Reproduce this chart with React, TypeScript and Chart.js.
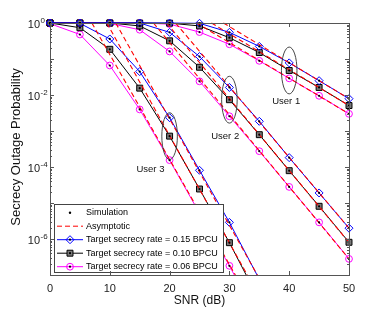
import { useEffect, useRef } from 'react';
import { Chart, registerables } from 'chart.js';
Chart.register(...registerables);

// ---------- data ----------
const snr = [0, 5, 10, 15, 20, 25, 30, 35, 40, 45, 50];

// User 1
const u1Rate015 = [1, 1, 1, 1, 1, 0.98, 0.55, 0.224, 0.078, 0.025, 7.9e-3];
const u1Rate010 = [1, 1, 1, 1, 0.99, 0.83, 0.39, 0.151, 0.048, 0.0162, 5.1e-3];
const u1Rate006 = [1, 1, 1, 1, 0.93, 0.56, 0.257, 0.089, 0.029, 9.5e-3, 3.0e-3];
// User 2
const u2Rate015 = [1, 1, 1, 1, 0.55, 0.117, 0.0162, 1.86e-3, 1.82e-4, 1.9e-5, 2.0e-6];
const u2Rate010 = [1, 1, 1, 0.83, 0.32, 0.059, 7.4e-3, 7.9e-4, 7.9e-5, 8.1e-6, 8.1e-7];
const u2Rate006 = [1, 1, 0.97, 0.65, 0.162, 0.024, 2.57e-3, 2.75e-4, 2.8e-5, 2.9e-6, 2.8e-7];
// User 3 (0..35 dB)
const u3Rate015 = [1, 0.98, 0.36, 0.0447, 2.34e-3, 8.1e-5, 2.9e-6, 7.6e-8];
const u3Rate010 = [1, 0.74, 0.186, 0.0155, 7.2e-4, 2.45e-5, 7.9e-7, 2e-8];
const u3Rate006 = [0.96, 0.48, 0.066, 3.98e-3, 1.55e-4, 5.2e-6, 1.8e-7, 5e-9];

// Asymptotic lines: [snr, probability] pairs
const asU1Rate015 = [[29, 1], [50, 7.9e-3]];
const asU1Rate010 = [[27, 1], [50, 5.1e-3]];
const asU1Rate006 = [[24.5, 1], [50, 3.0e-3]];
const asU2Rate015 = [[21, 1], [50, 2.0e-6]];
const asU2Rate010 = [[19.5, 1], [50, 8.0e-7]];
const asU2Rate006 = [[17.3, 1], [50, 2.8e-7]];
const asU3Rate015 = [[11, 1], [35, 8e-8]];
const asU3Rate010 = [[9.5, 1], [33, 1e-7]];
const asU3Rate006 = [[7, 1], [31, 1e-7]];

const rateLabels = [
  'Target secrecy rate = 0.15 BPCU',
  'Target secrecy rate = 0.10 BPCU',
  'Target secrecy rate = 0.06 BPCU',
];
const xTicks = [0, 10, 20, 30, 40, 50];
const yLabelExps = [0, -2, -4, -6];
const userLabels = [
  { text: 'User 1', x: 39.5, y: 6.6e-3 },
  { text: 'User 2', x: 29.3, y: 7.1e-4 },
  { text: 'User 3', x: 16.8, y: 8.7e-5 },
];
// ellipse centres (on the 0.10 BPCU curves)
const ellipseCentres = [
  { x: snr[8], y: u1Rate010[8] },
  { x: snr[6], y: u2Rate010[6] },
  { x: snr[4], y: u3Rate010[4] },
];

// ---------- styles ----------
const FONT = '"Liberation Sans", Arial, Helvetica, sans-serif';
const styles = [
  { color: '#0000ff', pointStyle: 'rectRot', radius: 4, fill: 'rgba(255,255,255,0)' },
  { color: '#000000', pointStyle: 'rect', radius: 4.2, fill: '#7a7a7a' },
  { color: '#ff00ff', pointStyle: 'circle', radius: 3.4, fill: 'rgba(255,255,255,0)' },
];

const toPts = (vals: number[]) => vals.map((v, i) => ({ x: snr[i], y: v }));
const pairPts = (p: number[][]) => p.map(([x, y]) => ({ x, y }));

const curveGroups = [
  [u1Rate015, u1Rate010, u1Rate006],
  [u2Rate015, u2Rate010, u2Rate006],
  [u3Rate015, u3Rate010, u3Rate006],
];
const asymGroups = [
  asU1Rate015, asU1Rate010, asU1Rate006,
  asU2Rate015, asU2Rate010, asU2Rate006,
  asU3Rate015, asU3Rate010, asU3Rate006,
];

const clip = { left: 10, top: 10, right: 10, bottom: 0 };

function drawMarker(ctx: CanvasRenderingContext2D, i: number, cx: number, cy: number) {
  const s = styles[i];
  ctx.beginPath();
  if (s.pointStyle === 'rectRot') {
    ctx.moveTo(cx, cy - s.radius);
    ctx.lineTo(cx + s.radius, cy);
    ctx.lineTo(cx, cy + s.radius);
    ctx.lineTo(cx - s.radius, cy);
    ctx.closePath();
  } else if (s.pointStyle === 'rect') {
    const h = s.radius * Math.SQRT1_2;
    ctx.rect(cx - h, cy - h, 2 * h, 2 * h);
  } else {
    ctx.arc(cx, cy, s.radius, 0, Math.PI * 2);
  }
  ctx.fillStyle = s.fill;
  ctx.fill();
  ctx.strokeStyle = s.color;
  ctx.lineWidth = 1;
  ctx.stroke();
  ctx.beginPath();
  ctx.arc(cx, cy, 1.1, 0, Math.PI * 2);
  ctx.fillStyle = '#000';
  ctx.fill();
}

const decorPlugin = {
  id: 'decor',
  afterDatasetsDraw(chart: any) {
    const { ctx, chartArea: a, scales } = chart;
    const x = scales.x;
    const y = scales.y;
    ctx.save();

    // ellipses
    ctx.strokeStyle = '#333';
    ctx.lineWidth = 0.9;
    for (const c of ellipseCentres) {
      const cx = x.getPixelForValue(c.x);
      const cy = y.getPixelForValue(c.y);
      const rx = x.getPixelForValue(c.x + 1.3) - cx;
      const ry = y.getPixelForValue(c.y / Math.pow(10, 0.65)) - cy;
      ctx.beginPath();
      ctx.ellipse(cx, cy, rx, ry, 0, 0, Math.PI * 2);
      ctx.stroke();
    }
    // user labels
    ctx.fillStyle = '#111';
    ctx.font = `9.5px ${FONT}`;
    ctx.textAlign = 'center';
    ctx.textBaseline = 'middle';
    for (const u of userLabels) {
      ctx.fillText(u.text, x.getPixelForValue(u.x), y.getPixelForValue(u.y));
    }

    // legend
    const lx = a.left + 4;
    const ly = a.bottom - 71;
    const lw = 169;
    const lh = 68;
    ctx.fillStyle = '#fff';
    ctx.fillRect(lx, ly, lw, lh);
    ctx.strokeStyle = '#444';
    ctx.lineWidth = 1;
    ctx.strokeRect(lx + 0.5, ly + 0.5, lw, lh);
    const rowY = (i: number) => ly + 8.7 + i * 13.5;
    const sx0 = lx + 3;
    const sx1 = lx + 29;
    const smid = lx + 16;
    // simulation
    ctx.beginPath();
    ctx.arc(smid, rowY(0), 1.2, 0, Math.PI * 2);
    ctx.fillStyle = '#000';
    ctx.fill();
    // asymptotic
    ctx.beginPath();
    ctx.setLineDash([5, 3]);
    ctx.strokeStyle = '#ff0000';
    ctx.moveTo(sx0, rowY(1));
    ctx.lineTo(sx1, rowY(1));
    ctx.stroke();
    ctx.setLineDash([]);
    for (let i = 0; i < 3; i++) {
      const ry = rowY(i + 2);
      ctx.beginPath();
      ctx.strokeStyle = styles[i].color;
      ctx.moveTo(sx0, ry);
      ctx.lineTo(sx1, ry);
      ctx.stroke();
      drawMarker(ctx, i, smid, ry);
    }
    ctx.fillStyle = '#000';
    ctx.font = `9px ${FONT}`;
    ctx.textAlign = 'left';
    ctx.textBaseline = 'middle';
    const legendTexts = ['Simulation', 'Asymptotic', ...rateLabels];
    legendTexts.forEach((t, i) => ctx.fillText(t, lx + 32, rowY(i)));

    // frame
    ctx.strokeStyle = '#555';
    ctx.lineWidth = 1;
    ctx.strokeRect(Math.round(a.left) + 0.5, Math.round(a.top) + 0.5, Math.round(a.right - a.left), Math.round(a.bottom - a.top));

    // x ticks
    ctx.beginPath();
    for (const t of xTicks) {
      const px = Math.round(x.getPixelForValue(t)) + 0.5;
      ctx.moveTo(px, a.bottom);
      ctx.lineTo(px, a.bottom - 4);
      ctx.moveTo(px, a.top);
      ctx.lineTo(px, a.top + 4);
    }
    // y ticks
    for (let e = -7; e <= 0; e++) {
      const py = Math.round(y.getPixelForValue(Math.pow(10, e))) + 0.5;
      ctx.moveTo(a.left, py);
      ctx.lineTo(a.left + 4, py);
      ctx.moveTo(a.right, py);
      ctx.lineTo(a.right - 4, py);
      if (e < 0) {
        for (let k = 2; k <= 9; k++) {
          const pm = Math.round(y.getPixelForValue(k * Math.pow(10, e))) + 0.5;
          ctx.moveTo(a.left, pm);
          ctx.lineTo(a.left + 2, pm);
          ctx.moveTo(a.right, pm);
          ctx.lineTo(a.right - 2, pm);
        }
      }
    }
    ctx.stroke();

    // x tick labels
    ctx.fillStyle = '#222';
    ctx.font = `11px ${FONT}`;
    ctx.textAlign = 'center';
    ctx.textBaseline = 'middle';
    for (const t of xTicks) {
      ctx.fillText(String(t), x.getPixelForValue(t), a.bottom + 14);
    }
    // y tick labels
    for (const e of yLabelExps) {
      const py = y.getPixelForValue(Math.pow(10, e));
      ctx.font = `11px ${FONT}`;
      ctx.textAlign = 'right';
      ctx.fillText('10', a.left - 10, py + 1.5);
      ctx.font = `8px ${FONT}`;
      ctx.textAlign = 'left';
      ctx.fillText(String(e), a.left - 9.5, py - 2.5);
    }
    // titles
    ctx.fillStyle = '#111';
    ctx.font = `12px ${FONT}`;
    ctx.textAlign = 'center';
    ctx.fillText('SNR (dB)', (a.left + a.right) / 2, a.bottom + 26);
    ctx.save();
    ctx.translate(16, (a.top + a.bottom) / 2 - 2);
    ctx.rotate(-Math.PI / 2);
    ctx.font = `13px ${FONT}`;
    ctx.fillText('Secrecy Outage Probability', 0, 0);
    ctx.restore();

    ctx.restore();
  },
};

export default function App() {
  const ref = useRef<HTMLCanvasElement | null>(null);
  useEffect(() => {
    if (!ref.current) return;
    const datasets: any[] = [];
    // simulation dots
    const simPts: { x: number; y: number }[] = [];
    curveGroups.forEach((g) => g.forEach((vals) => simPts.push(...toPts(vals))));
    datasets.push({
      label: 'Simulation',
      data: simPts,
      showLine: false,
      pointRadius: 1.1,
      pointStyle: 'circle',
      pointBackgroundColor: '#000',
      pointBorderWidth: 0,
      order: -1,
      clip,
    });
    asymGroups.forEach((p) => {
      datasets.push({
        label: 'Asymptotic',
        data: pairPts(p),
        borderColor: '#ff0000',
        borderWidth: 1.1,
        borderDash: [5, 3],
        pointRadius: 0,
        fill: false,
        order: 0,
        clip,
      });
    });
    curveGroups.forEach((g) =>
      g.forEach((vals, i) => {
        const s = styles[i];
        datasets.push({
          label: rateLabels[i],
          data: toPts(vals),
          borderColor: s.color,
          borderWidth: 1,
          pointStyle: s.pointStyle,
          pointRadius: s.radius,
          pointBorderColor: s.color,
          pointBackgroundColor: s.fill,
          pointBorderWidth: 1,
          fill: false,
          order: 1,
          clip,
        });
      })
    );
    const chart = new Chart(ref.current, {
      type: 'line',
      data: { datasets },
      plugins: [decorPlugin],
      options: {
        animation: false,
        responsive: false,
        layout: { padding: { left: 50, top: 23, right: 36, bottom: 35 } },
        plugins: { legend: { display: false }, tooltip: { enabled: false } },
        scales: {
          x: { type: 'linear', min: 0, max: 50, display: false },
          y: { type: 'logarithmic', min: 1e-7, max: 1, display: false },
        },
      } as any,
    });
    return () => chart.destroy();
  }, []);
  return (
    <div style={{ position: 'fixed', left: 0, top: 0, width: 385, height: 310, background: '#fff' }}>
      <canvas ref={ref} width={385} height={310} style={{ display: 'block' }} />
    </div>
  );
}
